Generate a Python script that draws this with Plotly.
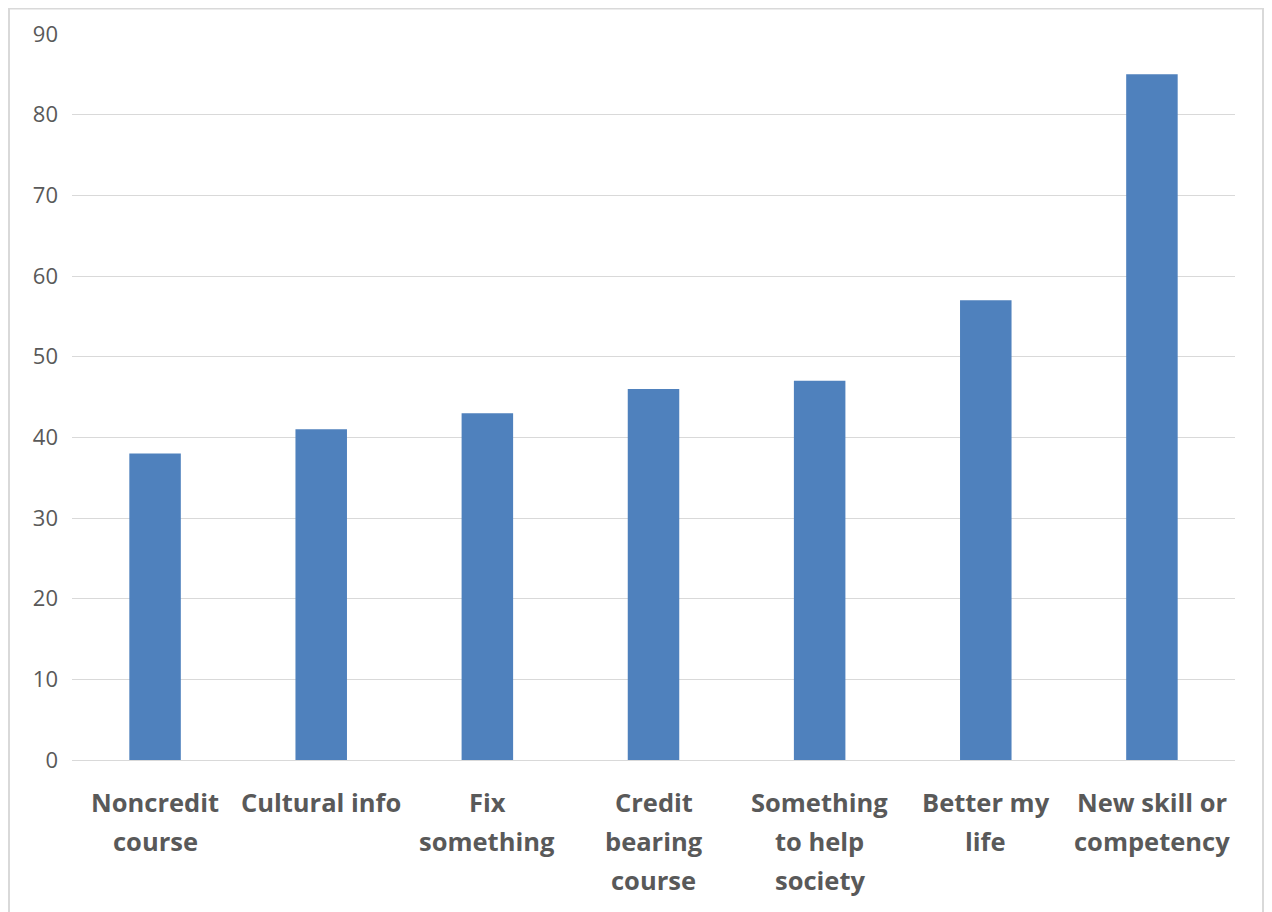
import plotly.graph_objects as go

categories = ["Noncredit course", "Cultural info", "Fix something", "Credit bearing course",
              "Something to help society", "Better my life", "New skill or competency"]
label_lines = [["Noncredit", "course"], ["Cultural info"], ["Fix", "something"],
               ["Credit", "bearing", "course"], ["Something", "to help", "society"],
               ["Better my", "life"], ["New skill or", "competency"]]
values = [38, 41, 43, 46, 47, 57, 85]
y_ticks = [0, 10, 20, 30, 40, 50, 60, 70, 80, 90]

FONT = "Open Sans"
GRAY = "#595959"

fig = go.Figure(go.Bar(x=categories, y=values, marker=dict(color="#4f81bd", line=dict(width=0)),
                       width=0.31))

annotations = []
for cat, lines in zip(categories, label_lines):
    for i, ln in enumerate(lines):
        annotations.append(dict(
            x=cat, xref="x", y=0, yref="paper", yanchor="middle", xanchor="center",
            yshift=-(42 + 39 * i), text=ln, showarrow=False,
            font=dict(family=FONT, size=25.5, color=GRAY, weight="bold")))

W, H = 1272, 912
L, T = 64, 26
PW, PH = 1163, 726
fig.update_layout(
    width=W, height=H,
    margin=dict(l=L, r=W - L - PW, t=T, b=H - T - PH, autoexpand=False),
    paper_bgcolor="white", plot_bgcolor="white",
    showlegend=False,
    annotations=annotations,
    shapes=[dict(type="rect", xref="paper", yref="paper",
                 x0=(1 - L) / PW, x1=(1255 - L) / PW, y0=-(H - T - PH + 20) / PH, y1=1 + (T - 0.5) / PH,
                 line=dict(color="#d9d9d9", width=2), fillcolor="rgba(0,0,0,0)")],
    xaxis=dict(showticklabels=False, showgrid=False, showline=False, zeroline=False,
               range=[-0.5, 6.5], automargin=False),
    yaxis=dict(range=[0, 90], tickvals=y_ticks, showgrid=True, gridcolor="#d9d9d9", gridwidth=1,
               zeroline=True, zerolinecolor="#d9d9d9", zerolinewidth=1, showline=False,
               automargin=False,
               tickfont=dict(family=FONT, size=22, color=GRAY), ticklabelstandoff=13),
    bargap=0.69,
)

fig.write_html("out.html")
